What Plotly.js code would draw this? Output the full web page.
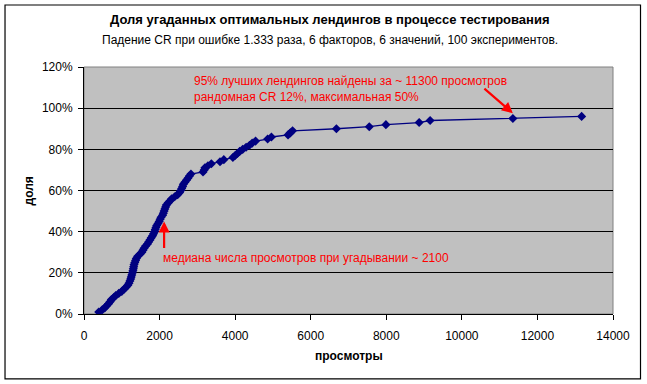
<!DOCTYPE html>
<html>
<head>
<meta charset="utf-8">
<script src="https://cdn.plot.ly/plotly-3.0.1.min.js"></script>
<style>
html,body{margin:0;padding:0;background:#fff;}
#chart{width:647px;height:384px;}
</style>
</head>
<body>
<div id="chart"></div>
<script>
// Views needed (x) for each share of guessed optimal landings (y)
var views = [390, 480, 550, 600, 650, 690, 725, 790, 840, 920,
  1000, 1060, 1110, 1160, 1190, 1215, 1235, 1250, 1265, 1280,
  1295, 1305, 1315, 1325, 1345, 1365, 1385, 1420, 1480, 1530,
  1560, 1590, 1630, 1680, 1710, 1745, 1780, 1815, 1840, 1865,
  1885, 1905, 1925, 1960, 1990, 2015, 2040, 2080, 2100, 2120,
  2140, 2160, 2180, 2230, 2280, 2320, 2400, 2480, 2530, 2560,
  2585, 2610, 2630, 2670, 2710, 2750, 2790, 2830, 3150, 3180,
  3200, 3280, 3370, 3600, 3700, 3940, 4000, 4060, 4120, 4200,
  4290, 4380, 4450, 4540, 4860, 4960, 5400, 5460, 5520, 6680,
  7550, 7990, 8870, 9160, 11350, 13170];
var shares = [0.01, 0.02, 0.03, 0.04, 0.05, 0.06, 0.07, 0.08, 0.09, 0.10,
  0.11, 0.12, 0.13, 0.14, 0.15, 0.16, 0.17, 0.18, 0.19, 0.20,
  0.21, 0.22, 0.23, 0.24, 0.25, 0.26, 0.27, 0.28, 0.29, 0.30,
  0.31, 0.32, 0.33, 0.34, 0.35, 0.36, 0.37, 0.38, 0.39, 0.40,
  0.41, 0.42, 0.43, 0.44, 0.45, 0.46, 0.47, 0.48, 0.49, 0.50,
  0.51, 0.52, 0.53, 0.54, 0.55, 0.56, 0.57, 0.58, 0.59, 0.60,
  0.61, 0.62, 0.63, 0.64, 0.65, 0.66, 0.67, 0.68, 0.69, 0.70,
  0.71, 0.72, 0.73, 0.74, 0.75, 0.76, 0.77, 0.78, 0.79, 0.80,
  0.81, 0.82, 0.83, 0.84, 0.85, 0.86, 0.87, 0.88, 0.89, 0.90,
  0.91, 0.92, 0.93, 0.94, 0.95, 0.96];
var xTicks = [0, 2000, 4000, 6000, 8000, 10000, 12000, 14000];
var yTicks = [0, 0.2, 0.4, 0.6, 0.8, 1.0, 1.2];

var titleText = 'Доля угаданных оптимальных лендингов в процессе тестирования';
var subtitleText = 'Падение CR при ошибке 1.333 раза, 6 факторов, 6 значений, 100 экспериментов.';
var xTitle = 'просмотры';
var yTitle = 'доля';
var noteTop = '95% лучших лендингов найдены за ~ 11300 просмотров<br>рандомная CR 12%, максимальная 50%';
var noteMedian = 'медиана числа просмотров при угадывании ~ 2100';
var pointTop = {x: 11350, y: 0.975};
var pointMedian = {x: 2120, y: 0.45};

var FONT = 'Liberation Sans, Arial, sans-serif';
var NAVY = '#000080';
var RED = '#FF0000';

var trace = {
  x: views, y: shares, type: 'scatter', mode: 'lines+markers',
  line: {color: NAVY, width: 1.3},
  marker: {symbol: 'diamond', size: 7, color: NAVY},
  hoverinfo: 'none'
};

var layout = {
  width: 647, height: 384,
  margin: {l: 84, r: 34, t: 67, b: 70},
  paper_bgcolor: '#ffffff',
  plot_bgcolor: '#C0C0C0',
  showlegend: false,
  font: {family: FONT, size: 12, color: '#000'},
  xaxis: {
    range: [0, 14000], tickvals: xTicks, ticktext: xTicks.map(String),
    showgrid: false, zeroline: false,
    showline: true, linecolor: '#000', linewidth: 1,
    ticks: 'outside', ticklen: 5, tickcolor: '#000', tickwidth: 1,
    ticklabelstandoff: 6,
    tickfont: {family: FONT, size: 12, color: '#000'},
    fixedrange: true
  },
  yaxis: {
    range: [0, 1.2], tickvals: yTicks, tickformat: '.0%',
    showgrid: true, gridcolor: '#000', gridwidth: 1,
    zeroline: false,
    showline: true, linecolor: '#000', linewidth: 1,
    ticks: 'outside', ticklen: 5, tickcolor: '#000', tickwidth: 1,
    ticklabelstandoff: 3,
    tickfont: {family: FONT, size: 12, color: '#000'},
    fixedrange: true
  },
  shapes: [
    {type: 'rect', xref: 'paper', yref: 'paper', x0: 0, x1: 1, y0: 0, y1: 1,
     line: {color: '#808080', width: 1}, layer: 'below'},
    {type: 'rect', xref: 'paper', yref: 'paper', x0: -0.1493, x1: 1.052, y0: -0.263, y1: 1.251,
     line: {color: '#000', width: 1.2}}
  ],
  annotations: [
    {text: '<b>' + titleText + '</b>', xref: 'paper', yref: 'paper',
     x: 0.465, y: 1.191, xanchor: 'center', yanchor: 'middle', showarrow: false,
     font: {family: FONT, size: 13, color: '#000'}},
    {text: subtitleText, xref: 'paper', yref: 'paper',
     x: 0.465, y: 1.11, xanchor: 'center', yanchor: 'middle', showarrow: false,
     font: {family: FONT, size: 12, color: '#000'}},
    {text: '<b>' + xTitle + '</b>', xref: 'paper', yref: 'paper',
     x: 0.5, y: -0.172, xanchor: 'center', yanchor: 'middle', showarrow: false,
     font: {family: FONT, size: 12, color: '#000'}},
    {text: '<b>' + yTitle + '</b>', xref: 'paper', yref: 'paper',
     x: -0.104, y: 0.5, xanchor: 'center', yanchor: 'middle', showarrow: false, textangle: -90,
     font: {family: FONT, size: 12, color: '#000'}},
    {text: noteTop, xref: 'x', yref: 'y', x: 2850, y: 1.092, xanchor: 'left', yanchor: 'middle',
     align: 'left', showarrow: false, font: {family: FONT, size: 12, color: RED}},
    {text: noteMedian, xref: 'x', yref: 'y', x: 2040, y: 0.272, xanchor: 'left', yanchor: 'middle',
     align: 'left', showarrow: false, font: {family: FONT, size: 12, color: RED}},
    {text: '', xref: 'x', yref: 'y', x: pointTop.x, y: pointTop.y, ax: -30, ay: -26,
     showarrow: true, arrowhead: 2, arrowsize: 1, arrowwidth: 2.2, arrowcolor: RED, standoff: 0},
    {text: '', xref: 'x', yref: 'y', x: pointMedian.x, y: pointMedian.y, ax: 0, ay: 28,
     showarrow: true, arrowhead: 2, arrowsize: 1, arrowwidth: 2.2, arrowcolor: RED, standoff: 0}
  ]
};

Plotly.newPlot('chart', [trace], layout, {staticPlot: true, displayModeBar: false});
</script>
</body>
</html>
